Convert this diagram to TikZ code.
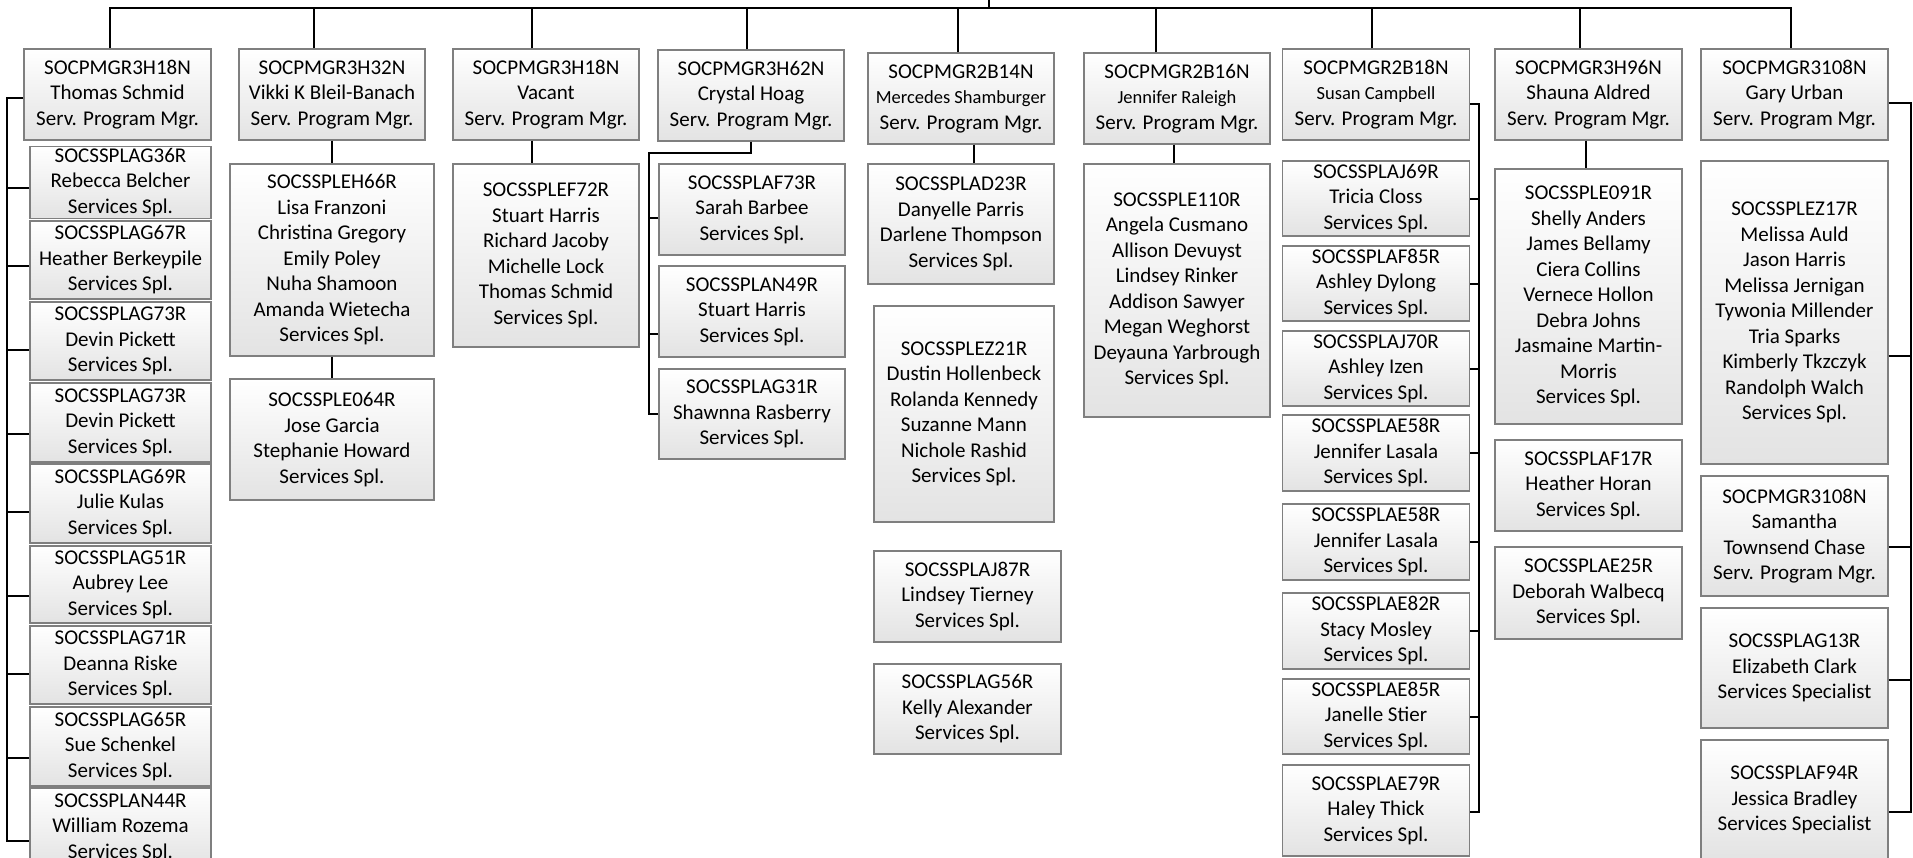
\documentclass[tikz,border=0pt]{standalone}
\usepackage{fontspec}
\setmainfont{Carlito}
\usepackage{xcolor}
\definecolor{boxline}{HTML}{7F7F7F}
\definecolor{boxfill}{HTML}{E3E3E3}
\newcommand{\chartfont}{\fontsize{21}{25.5}\selectfont}
\newcommand{\sname}[1]{{\fontsize{18.5}{25.5}\selectfont #1}}
\usepackage{tikz}
\tikzset{
  pbox/.style ={draw=boxline,line width=1.2pt,top color=white,
                bottom color=boxfill,inner sep=0pt,align=center,
                font=\chartfont},
  link/.style ={draw=black,line width=2pt},
}
\begin{document}
\begin{tikzpicture}[x=1pt,y=-1pt]
\useasboundingbox (0,0) rectangle (1913,857);
% program managers
\node[pbox,minimum width=187pt,minimum height=91pt] (m1) at (117.5,94.5)
  {SOCPMGR3H18N\\Thomas Schmid\\Serv. Program Mgr.};
\node[pbox,minimum width=186pt,minimum height=91pt] (m2) at (332,94.5)
  {SOCPMGR3H32N\\Vikki K Bleil-Banach\\Serv. Program Mgr.};
\node[pbox,minimum width=186pt,minimum height=91pt] (m3) at (546,94.5)
  {SOCPMGR3H18N\\Vacant\\Serv. Program Mgr.};
\node[pbox,minimum width=186pt,minimum height=91pt] (m4) at (751,95.5)
  {SOCPMGR3H62N\\Crystal Hoag\\Serv. Program Mgr.};
\node[pbox,minimum width=186pt,minimum height=91pt] (m5) at (961,98.5)
  {SOCPMGR2B14N\\\sname{Mercedes Shamburger}\\Serv. Program Mgr.};
\node[pbox,minimum width=186pt,minimum height=91pt] (m6) at (1177,98.5)
  {SOCPMGR2B16N\\\sname{Jennifer Raleigh}\\Serv. Program Mgr.};
\node[pbox,minimum width=187pt,minimum height=91pt] (m7) at (1376,94.5)
  {SOCPMGR2B18N\\\sname{Susan Campbell}\\Serv. Program Mgr.};
\node[pbox,minimum width=187pt,minimum height=91pt] (m8) at (1588.5,94.5)
  {SOCPMGR3H96N\\Shauna Aldred\\Serv. Program Mgr.};
\node[pbox,minimum width=187pt,minimum height=91pt] (m9) at (1794.5,94.5)
  {SOCPMGR3108N\\Gary Urban\\Serv. Program Mgr.};
% top bus
\coordinate (root) at (989,-10);
\coordinate (bus) at (989,7.5);
\foreach \m/\dx in {m1/-7.5,m2/-18,m3/-14,m4/-4,m5/-3,m6/-21,m7/-4,m8/-8.5,m9/-3.5}
  \path ([xshift=\dx pt]\m.north) coordinate (\m-up);
\draw[link] (m1-up) |- (bus) -| (m9-up);
\draw[link] (root) -- (bus);
\foreach \m in {m2,m3,m4,m5,m6,m7,m8}
  \draw[link] (\m-up) -- (\m-up |- bus);
% column 1
\foreach \n/\y/\h/\id/\who in {1/182.5/72/SOCSSPLAG36R/Rebecca Belcher,
    2/260/78/SOCSSPLAG67R/Heather Berkeypile, 3/341/78/SOCSSPLAG73R/Devin Pickett,
    4/422.5/79/SOCSSPLAG73R/Devin Pickett, 5/503.5/79/SOCSSPLAG69R/Julie Kulas,
    6/584.5/77/SOCSSPLAG51R/Aubrey Lee, 7/665/78/SOCSSPLAG71R/Deanna Riske,
    8/746.5/79/SOCSSPLAG65R/Sue Schenkel, 9/827.5/79/SOCSSPLAN44R/William Rozema}
  \node[pbox,minimum width=181pt,minimum height=\h pt] (k\n) at (120.5,\y)
    {\id\\\who\\Services Spl.};
\draw[link] ([yshift=-3.5pt]m1.west) -- ++(-16,0) |- ([yshift=-13pt]k9.west);
\foreach \n/\dy in {1/5.5,2/6,3/9,4/11.5,5/8.5,6/11.5,7/9,8/11.5}
  \draw[link] ([yshift=-\dy pt]k\n.west) -- ++(-22,0);
% column 2
\node[pbox,minimum width=204pt,minimum height=192pt] (n2a) at (332,260)
  {SOCSSPLEH66R\\Lisa Franzoni\\Christina Gregory\\Emily Poley\\Nuha Shamoon\\Amanda Wietecha\\Services Spl.};
\node[pbox,minimum width=204pt,minimum height=121pt] (n2b) at (332,439.5)
  {SOCSSPLE064R\\Jose Garcia\\Stephanie Howard\\Services Spl.};
\draw[link] (m2) -- (n2a);
\draw[link] (n2a) -- (n2b);
% column 3
\node[pbox,minimum width=186pt,minimum height=183pt] (n3a) at (546,255.5)
  {SOCSSPLEF72R\\Stuart Harris\\Richard Jacoby\\Michelle Lock\\Thomas Schmid\\Services Spl.};
\draw[link] ([xshift=-14pt]m3.south) -- ([xshift=-14pt]n3a.north);
% column 4
\node[pbox,minimum width=186pt,minimum height=91pt] (n4a) at (752,209.5)
  {SOCSSPLAF73R\\Sarah Barbee\\Services Spl.};
\node[pbox,minimum width=186pt,minimum height=91pt] (n4b) at (752,311.5)
  {SOCSSPLAN49R\\Stuart Harris\\Services Spl.};
\node[pbox,minimum width=186pt,minimum height=90pt] (n4c) at (752,414)
  {SOCSSPLAG31R\\Shawnna Rasberry\\Services Spl.};
\draw[link] (m4.south) -- ++(0,11) -| ([xshift=-9pt]n4c.west) -- (n4c.west);
\draw[link] ([yshift=-8.5pt]n4a.west) -- ++(-9,0);
\draw[link] ([yshift=-22.5pt]n4b.west) -- ++(-9,0);
% column 5
\node[pbox,minimum width=186pt,minimum height=120pt] (n5a) at (961,224)
  {SOCSSPLAD23R\\Danyelle Parris\\Darlene Thompson\\Services Spl.};
\node[pbox,minimum width=180pt,minimum height=216pt] (n5b) at (964,414)
  {SOCSSPLEZ21R\\Dustin Hollenbeck\\Rolanda Kennedy\\Suzanne Mann\\Nichole Rashid\\Services Spl.};
\node[pbox,minimum width=187pt,minimum height=91pt] (n5c) at (967.5,596.5)
  {SOCSSPLAJ87R\\Lindsey Tierney\\Services Spl.};
\node[pbox,minimum width=187pt,minimum height=90pt] (n5d) at (967.5,709)
  {SOCSSPLAG56R\\Kelly Alexander\\Services Spl.};
\draw[link] ([xshift=13pt]m5.south) -- ([xshift=13pt]n5a.north);
% column 6
\node[pbox,minimum width=186pt,minimum height=253pt] (n6a) at (1177,290.5)
  {SOCSSPLE110R\\Angela Cusmano\\Allison Devuyst\\Lindsey Rinker\\Addison Sawyer\\Megan Weghorst\\Deyauna Yarbrough\\Services Spl.};
\draw[link] ([xshift=-3pt]m6.south) -- ([xshift=-3pt]n6a.north);
% column 7
\foreach \n/\y/\h/\id/\who in {a/198.5/75/SOCSSPLAJ69R/Tricia Closs,
    b/283.5/75/SOCSSPLAF85R/Ashley Dylong, c/368.5/75/SOCSSPLAJ70R/Ashley Izen,
    d/453/76/SOCSSPLAE58R/Jennifer Lasala, e/542/76/SOCSSPLAE58R/Jennifer Lasala,
    f/631/76/SOCSSPLAE82R/Stacy Mosley, g/716.5/75/SOCSSPLAE85R/Janelle Stier,
    h/810.5/91/SOCSSPLAE79R/Haley Thick}
  \node[pbox,minimum width=187pt,minimum height=\h pt] (n7\n) at (1376,\y)
    {\id\\\who\\Services Spl.};
\draw[link] ([yshift=-9.5pt]m7.east) -- ++(9,0) |- ([yshift=-1.5pt]n7h.east);
\foreach \n in {a,b,c,d,e,f,g}
  \draw[link] (n7\n.east) -- ++(9,0);
% column 8
\node[pbox,minimum width=187pt,minimum height=255pt] (n8a) at (1588.5,296.5)
  {SOCSSPLE091R\\Shelly Anders\\James Bellamy\\Ciera Collins\\Vernece Hollon\\Debra Johns\\Jasmaine Martin-\\Morris\\Services Spl.};
\node[pbox,minimum width=187pt,minimum height=91pt] (n8b) at (1588.5,485.5)
  {SOCSSPLAF17R\\Heather Horan\\Services Spl.};
\node[pbox,minimum width=187pt,minimum height=92pt] (n8c) at (1588.5,593)
  {SOCSSPLAE25R\\Deborah Walbecq\\Services Spl.};
\draw[link] ([xshift=-2.5pt]m8.south) -- ([xshift=-2.5pt]n8a.north);
% column 9
\node[pbox,minimum width=187pt,minimum height=303pt] (n9a) at (1794.5,312.5)
  {SOCSSPLEZ17R\\Melissa Auld\\Jason Harris\\Melissa Jernigan\\Tywonia Millender\\Tria Sparks\\Kimberly Tkzczyk\\Randolph Walch\\Services Spl.};
\node[pbox,minimum width=187pt,minimum height=120pt] (n9b) at (1794.5,536)
  {SOCPMGR3108N\\Samantha\\Townsend Chase\\Serv. Program Mgr.};
\node[pbox,minimum width=187pt,minimum height=120pt] (n9c) at (1794.5,668)
  {SOCSSPLAG13R\\Elizabeth Clark\\Services Specialist};
\node[pbox,minimum width=187pt,minimum height=120pt] (n9d) at (1794.5,800)
  {SOCSSPLAF94R\\Jessica Bradley\\Services Specialist};
\draw[link] ([yshift=-8.5pt]m9.east) -- ++(22,0) |- ([yshift=-12pt]n9d.east);
\foreach \n/\dy in {a/43.5,b/11,c/12}
  \draw[link] ([yshift=-\dy pt]n9\n.east) -- ++(22,0);
\end{tikzpicture}
\end{document}
